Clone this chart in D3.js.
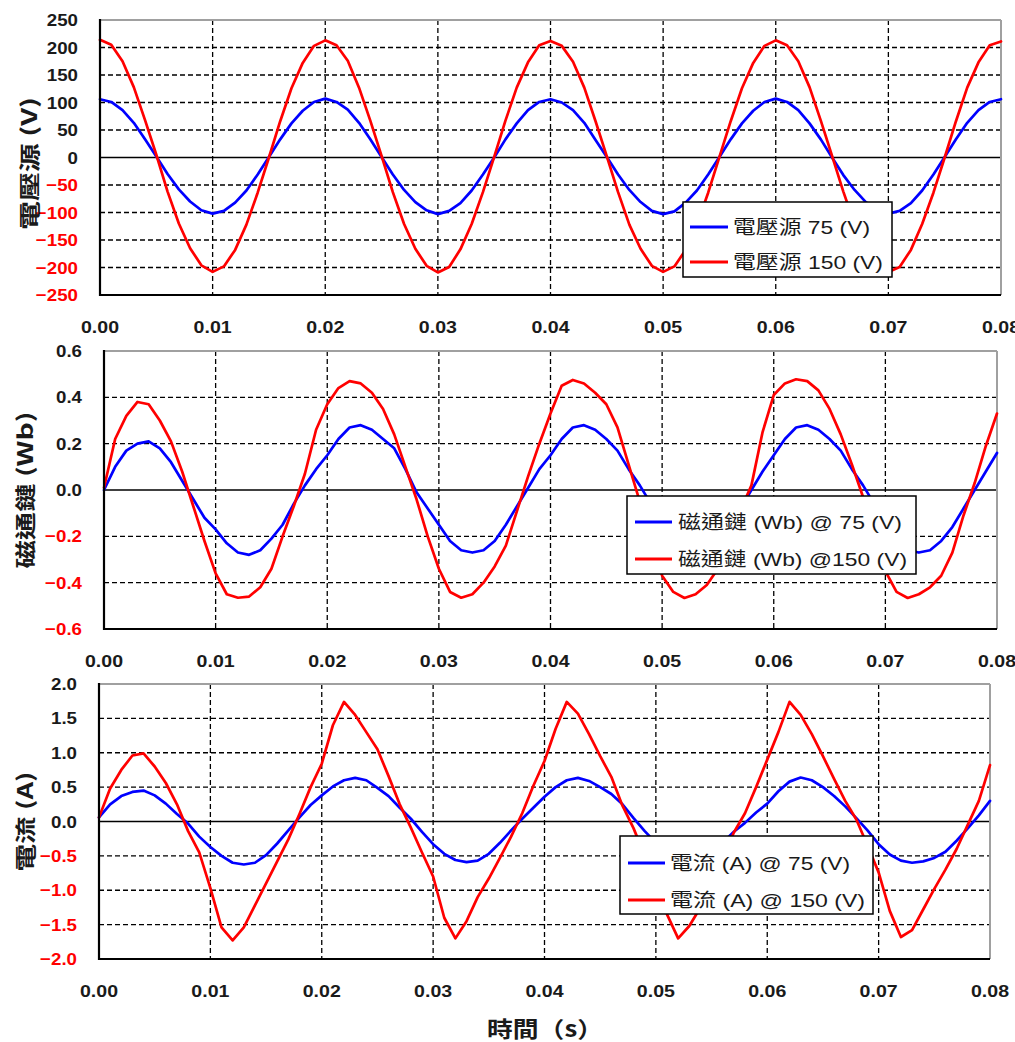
<!DOCTYPE html>
<html><head><meta charset="utf-8">
<script src="https://cdn.jsdelivr.net/npm/d3@7"></script>
<style>body{margin:0;background:#fff} svg{display:block}</style>
</head><body><svg id="c" width="1015" height="1042"></svg>
<script>
// ---- data (sampled every 0.001 s from 0 to 0.08 s) ----
const time = d3.range(81).map(i => i * 0.001);
const xTicks = [0, 0.01, 0.02, 0.03, 0.04, 0.05, 0.06, 0.07, 0.08];

const voltage75 = [
106,101,86,63,33,2,-30,-58,-80,-96,
-102,-97,-82,-60,-31,1,33,62,85,101,
107,101,87,63,33,1,-31,-59,-81,-96,
-103,-97,-83,-60,-31,0,33,62,86,101,
106,100,86,63,32,1,-31,-59,-81,-97,
-103,-98,-82,-60,-31,1,33,62,85,101,
107,101,86,62,33,0,-32,-59,-81,-96,
-102,-97,-83,-60,-31,1,33,63,86,101,
106];
const voltage150 = [
214,205,175,128,68,5,-62,-120,-165,-196,
-208,-198,-168,-122,-64,0,66,126,172,203,
213,204,176,127,67,3,-63,-121,-166,-197,
-209,-199,-167,-121,-63,1,67,127,173,204,
212,203,174,127,66,2,-63,-122,-166,-197,
-208,-198,-168,-122,-64,1,66,126,172,203,
213,204,175,128,67,3,-62,-121,-165,-196,
-208,-199,-168,-121,-64,0,66,127,173,204,
211];
const flux75 = [
0.00,0.10,0.17,0.20,0.21,0.18,0.12,0.04,-0.04,-0.12,
-0.17,-0.23,-0.27,-0.28,-0.26,-0.21,-0.15,-0.06,0.02,0.09,
0.15,0.22,0.27,0.28,0.26,0.22,0.18,0.09,-0.01,-0.08,
-0.15,-0.22,-0.26,-0.27,-0.26,-0.22,-0.15,-0.07,0.01,0.09,
0.15,0.22,0.27,0.28,0.26,0.22,0.17,0.09,0.02,-0.06,
-0.14,-0.21,-0.26,-0.27,-0.26,-0.22,-0.16,-0.08,0.00,0.08,
0.15,0.22,0.27,0.28,0.26,0.22,0.17,0.09,0.02,-0.06,
-0.13,-0.21,-0.26,-0.27,-0.26,-0.22,-0.16,-0.08,0.00,0.08,
0.16];
const flux150 = [
0.01,0.22,0.32,0.38,0.37,0.30,0.21,0.08,-0.07,-0.22,
-0.36,-0.45,-0.465,-0.46,-0.42,-0.34,-0.20,-0.07,0.07,0.26,
0.37,0.44,0.47,0.46,0.42,0.35,0.24,0.10,-0.04,-0.20,
-0.34,-0.44,-0.465,-0.45,-0.40,-0.33,-0.24,-0.09,0.06,0.20,
0.33,0.45,0.475,0.46,0.42,0.37,0.27,0.11,-0.05,-0.21,
-0.37,-0.44,-0.466,-0.45,-0.41,-0.34,-0.22,-0.09,0.02,0.25,
0.41,0.46,0.478,0.47,0.43,0.35,0.24,0.11,-0.03,-0.18,
-0.35,-0.44,-0.466,-0.45,-0.42,-0.37,-0.27,-0.11,0.03,0.19,
0.33];
const current75 = [
0.06,0.25,0.37,0.43,0.45,0.38,0.26,0.11,-0.03,-0.22,
-0.37,-0.50,-0.60,-0.625,-0.60,-0.49,-0.32,-0.13,0.06,0.24,
0.38,0.51,0.60,0.635,0.60,0.49,0.37,0.20,0.04,-0.15,
-0.33,-0.47,-0.56,-0.59,-0.57,-0.47,-0.31,-0.13,0.04,0.20,
0.36,0.50,0.60,0.635,0.59,0.50,0.40,0.25,0.05,-0.14,
-0.31,-0.46,-0.56,-0.60,-0.57,-0.47,-0.31,-0.15,-0.02,0.13,
0.26,0.44,0.58,0.64,0.60,0.50,0.37,0.22,0.05,-0.13,
-0.33,-0.48,-0.57,-0.60,-0.58,-0.53,-0.44,-0.28,-0.10,0.09,
0.30];
const current150 = [
0.06,0.48,0.75,0.96,0.99,0.80,0.56,0.25,-0.14,-0.45,
-0.97,-1.54,-1.73,-1.54,-1.22,-0.90,-0.58,-0.26,0.11,0.50,
0.84,1.40,1.74,1.55,1.30,1.05,0.66,0.25,-0.09,-0.45,
-0.80,-1.40,-1.70,-1.45,-1.10,-0.83,-0.53,-0.22,0.12,0.52,
0.88,1.35,1.74,1.57,1.27,0.95,0.65,0.23,-0.10,-0.50,
-0.85,-1.35,-1.70,-1.52,-1.25,-0.92,-0.55,-0.16,0.12,0.50,
0.90,1.30,1.74,1.55,1.27,0.95,0.62,0.30,0.03,-0.35,
-0.74,-1.30,-1.68,-1.58,-1.28,-0.98,-0.70,-0.40,-0.05,0.30,
0.82];

const yTicksVoltage = [-250,-200,-150,-100,-50,0,50,100,150,200,250];
const yTicksFlux = [-0.6,-0.4,-0.2,0,0.2,0.4,0.6];
const yTicksCurrent = [-2,-1.5,-1,-0.5,0,0.5,1,1.5,2];

const titles = ['電壓源 (V)', '磁通鏈 (Wb)', '電流 (A)'];
const legendVoltage = ['電壓源 75 (V)', '電壓源 150 (V)'];
const legendFlux = ['磁通鏈 (Wb) @ 75 (V)', '磁通鏈 (Wb) @150 (V)'];
const legendCurrent = ['電流 (A) @ 75 (V)', '電流 (A) @ 150 (V)'];
const xTitle = '時間（s）';
const seriesColors = ['#0000ff', '#ff0000'];

// ---- drawing ----
const svg = d3.select('#c');
const CJK = '"Noto Sans CJK TC","Noto Sans CJK SC",sans-serif';
const NUM = '"Liberation Sans",Arial,"Noto Sans CJK TC",sans-serif';

function stretch(sel, f) {
  sel.each(function () {
    const w = this.getComputedTextLength();
    d3.select(this).attr('textLength', w * f).attr('lengthAdjust', 'spacingAndGlyphs');
  });
}
function fitTo(sel, len) {
  sel.attr('textLength', len).attr('lengthAdjust', 'spacingAndGlyphs');
}

const panels = [
  { box: {l:100, r:1001, t:20, b:295}, dom: [-250,250], ticks: yTicksVoltage, fmt: d3.format('d'),
    series: [voltage75, voltage150], title: titles[0], tx: 29, tlen: 133,
    legend: {x:683, y:202, w:209, h:75, labels: legendVoltage, lens:[137,150], lineX:[690,728], textX:733, rows:[227,262]} },
  { box: {l:104, r:997, t:351, b:629}, dom: [-0.6,0.6], ticks: yTicksFlux, fmt: d3.format('.1f'),
    series: [flux75, flux150], title: titles[1], tx: 25, tlen: 157,
    legend: {x:627, y:496, w:289, h:78, labels: legendFlux, lens:[224,229], lineX:[635,672], textX:678, rows:[522,559]} },
  { box: {l:99, r:990, t:684, b:959}, dom: [-2,2], ticks: yTicksCurrent, fmt: d3.format('.1f'),
    series: [current75, current150], title: titles[2], tx: 25, tlen: 100,
    legend: {x:620, y:836, w:253, h:78, labels: legendCurrent, lens:[180,195], lineX:[628,665], textX:670, rows:[863,900]} }
];

panels.forEach((p, pi) => {
  const b = p.box;
  const x = d3.scaleLinear().domain([0, 0.08]).range([b.l, b.r]);
  const y = d3.scaleLinear().domain(p.dom).range([b.b, b.t]);
  const g = svg.append('g');

  // horizontal dashed grid
  g.selectAll('.hg').data(p.ticks.filter(v => v !== 0 && v !== p.dom[0] && v !== p.dom[1]))
    .enter().append('line')
    .attr('x1', b.l).attr('x2', b.r).attr('y1', d => y(d)).attr('y2', d => y(d))
    .attr('stroke', '#000').attr('stroke-width', 1.3).attr('stroke-dasharray', '5,3');
  // vertical dashed grid
  g.selectAll('.vg').data(xTicks.slice(1, -1)).enter().append('line')
    .attr('x1', d => x(d)).attr('x2', d => x(d)).attr('y1', b.t).attr('y2', b.b)
    .attr('stroke', '#000').attr('stroke-width', 1.3).attr('stroke-dasharray', '5,3');
  // zero line
  g.append('line').attr('x1', b.l).attr('x2', b.r).attr('y1', y(0)).attr('y2', y(0))
    .attr('stroke', '#000').attr('stroke-width', 1.6);

  // frame: top/right gray, left/bottom black
  g.append('line').attr('x1', b.l).attr('x2', b.r).attr('y1', b.t).attr('y2', b.t).attr('stroke', '#a0a0a0').attr('stroke-width', 2);
  g.append('line').attr('x1', b.r).attr('x2', b.r).attr('y1', b.t).attr('y2', b.b).attr('stroke', '#a0a0a0').attr('stroke-width', 2);

  // series
  const line = d3.line().x((d, i) => x(time[i])).y(d => y(d));
  p.series.forEach((s, si) => {
    g.append('path').datum(s).attr('d', line).attr('fill', 'none')
      .attr('stroke', seriesColors[si]).attr('stroke-width', 2.7)
      .attr('stroke-linejoin', 'round').attr('stroke-linecap', 'round');
  });

  g.append('line').attr('x1', b.l).attr('x2', b.l).attr('y1', b.t - 1).attr('y2', b.b + 1).attr('stroke', '#000').attr('stroke-width', 2.2);
  g.append('line').attr('x1', b.l - 1).attr('x2', b.r).attr('y1', b.b).attr('y2', b.b).attr('stroke', '#000').attr('stroke-width', 2.2);

  // y tick labels
  const yl = g.selectAll('.yl').data(p.ticks).enter().append('text')
    .attr('x', b.l - 22).attr('y', d => y(d)).attr('dy', '0.36em')
    .attr('text-anchor', 'end').attr('font-family', NUM).attr('font-weight', 'bold')
    .attr('font-size', 17).attr('fill', d => d < 0 ? '#ff0000' : '#1a1a1a')
    .text(d => p.fmt(d));
  stretch(yl, 1.1);

  // x tick labels
  const xl = g.selectAll('.xl').data(xTicks).enter().append('text')
    .attr('x', d => x(d)).attr('y', b.b + 32).attr('dy', '0.36em')
    .attr('text-anchor', 'middle').attr('font-family', NUM).attr('font-weight', 'bold')
    .attr('font-size', 17).attr('fill', '#1a1a1a')
    .text(d => d3.format('.2f')(d));
  stretch(xl, 1.15);

  // y title
  const cy = (b.t + b.b) / 2 + (pi === 0 ? 6 : 0);
  const tt = g.append('text').attr('transform', `translate(${p.tx},${cy}) rotate(-90)`)
    .attr('text-anchor', 'middle').attr('dy', '0.36em')
    .attr('font-family', CJK).attr('font-weight', 'bold').attr('font-size', 21).attr('fill', '#1a1a1a')
    .text(p.title);
  fitTo(tt, p.tlen);

  // legend
  const L = p.legend;
  const lg = g.append('g');
  lg.append('rect').attr('x', L.x).attr('y', L.y).attr('width', L.w).attr('height', L.h)
    .attr('fill', '#fff').attr('stroke', '#000').attr('stroke-width', 1.5);
  L.labels.forEach((lab, i) => {
    lg.append('line').attr('x1', L.lineX[0]).attr('x2', L.lineX[1]).attr('y1', L.rows[i]).attr('y2', L.rows[i])
      .attr('stroke', seriesColors[i]).attr('stroke-width', 3);
    const t = lg.append('text').attr('x', L.textX).attr('y', L.rows[i]).attr('dy', '0.36em')
      .attr('font-family', NUM).attr('font-size', 19).attr('fill', '#1a1a1a').text(lab);
    fitTo(t, L.lens[i]);
  });
});

// x axis title
const xt = svg.append('text').attr('x', 545).attr('y', 1029).attr('dy', '0.36em')
  .attr('text-anchor', 'middle').attr('font-family', CJK).attr('font-weight', 'bold')
  .attr('font-size', 22).attr('fill', '#1a1a1a').text(xTitle);
fitTo(xt, 116);
</script>
</body></html>
